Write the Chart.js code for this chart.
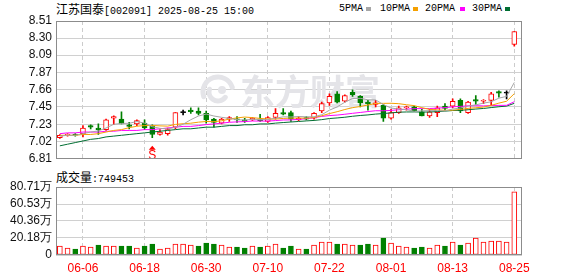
<!DOCTYPE html>
<html><head><meta charset="utf-8">
<script src="https://cdn.jsdelivr.net/npm/chart.js@4/dist/chart.umd.min.js"></script>
<style>
html,body{margin:0;padding:0;background:#fff;width:578px;height:276px;overflow:hidden;position:relative;}
#c1{position:absolute;left:0;top:0;}
#c2{position:absolute;left:0;top:170px;}
.t{position:absolute;white-space:nowrap;color:#000;line-height:14px;}
.cj{font-family:"Noto Sans CJK SC";font-size:12px;}
.as{font-family:"Liberation Mono","DejaVu Sans Mono",monospace;font-size:10px;}
.sq{position:absolute;width:5px;height:4px;}
</style></head><body>
<div class="t" style="left:56px;top:2px;"><span class="cj">江苏国泰</span><span class="as">[002091] 2025-08-25 15:00</span></div>
<div class="t as" style="left:339px;top:2px;">5PMA</div><div class="sq" style="left:366px;top:7px;background:#a6a6a6"></div>
<div class="t as" style="left:380px;top:2px;">10PMA</div><div class="sq" style="left:413px;top:7px;background:#f5a000"></div>
<div class="t as" style="left:425px;top:2px;">20PMA</div><div class="sq" style="left:460px;top:7px;background:#ff00ff"></div>
<div class="t as" style="left:472px;top:2px;">30PMA</div><div class="sq" style="left:505px;top:7px;background:#006e32"></div>
<div class="t" style="left:56px;top:170px;"><span class="cj">成交量</span><span class="as">:749453</span></div>
<canvas id="c1" width="578" height="170"></canvas>
<canvas id="c2" width="578" height="106"></canvas>
<script>
const dates = ['06-03','06-04','06-05','06-06','06-09','06-10','06-11','06-12','06-13','06-16','06-17','06-18','06-19','06-20','06-23','06-24','06-25','06-26','06-27','06-30','07-01','07-02','07-03','07-04','07-07','07-08','07-09','07-10','07-11','07-14','07-15','07-16','07-17','07-18','07-21','07-22','07-23','07-24','07-25','07-28','07-29','07-30','07-31','08-01','08-04','08-05','08-06','08-07','08-08','08-11','08-12','08-13','08-14','08-15','08-18','08-19','08-20','08-21','08-22','08-25'];
const opens  = [7.07,7.10,7.11,7.12,7.22,7.19,7.17,7.31,7.30,7.23, 7.24,7.25,7.21,7.11,7.12,7.20,7.38,7.41,7.40,7.37, 7.30,7.25,7.30,7.30,7.29,7.29,7.30,7.27,7.32,7.38, 7.38,7.29,7.32,7.31,7.40,7.50,7.61,7.52,7.63,7.58, 7.51,7.48,7.47,7.31,7.38,7.44,7.45,7.39,7.34,7.38, 7.46,7.46,7.53,7.38,7.54,7.52,7.53,7.64,7.62,8.22];
const highs  = [7.11,7.12,7.12,7.22,7.23,7.24,7.30,7.34,7.39,7.26, 7.29,7.29,7.23,7.17,7.19,7.38,7.41,7.44,7.44,7.40, 7.31,7.31,7.33,7.33,7.31,7.32,7.36,7.33,7.43,7.43, 7.40,7.33,7.33,7.38,7.51,7.61,7.64,7.60,7.66,7.59, 7.53,7.53,7.48,7.42,7.46,7.46,7.46,7.42,7.42,7.46, 7.49,7.55,7.55,7.52,7.59,7.54,7.63,7.65,7.65,8.38];
const lows   = [7.06,7.09,7.09,7.08,7.18,7.11,7.16,7.23,7.24,7.18, 7.22,7.17,7.07,7.10,7.10,7.18,7.35,7.37,7.35,7.25, 7.20,7.24,7.27,7.26,7.26,7.28,7.27,7.26,7.30,7.35, 7.27,7.28,7.29,7.30,7.38,7.47,7.50,7.51,7.58,7.45, 7.41,7.45,7.27,7.30,7.37,7.41,7.39,7.34,7.32,7.33, 7.41,7.44,7.38,7.37,7.48,7.49,7.47,7.57,7.55,8.20];
const closes = [7.10,7.11,7.10,7.19,7.20,7.17,7.29,7.33,7.24,7.21, 7.28,7.19,7.11,7.14,7.17,7.38,7.38,7.39,7.37,7.29, 7.26,7.30,7.32,7.29,7.27,7.31,7.28,7.32,7.37,7.36, 7.30,7.31,7.30,7.37,7.49,7.58,7.51,7.59,7.60,7.50, 7.49,7.50,7.31,7.38,7.44,7.45,7.40,7.34,7.39,7.44, 7.43,7.52,7.40,7.51,7.52,7.53,7.61,7.62,7.62,8.38];
// volume in 万 (10k shares)
const volumes = [10.7,8.3,7.1,10.7,9.5,11.9,10.7,10.7,10.7,10.7, 8.3,10.7,13.0,7.1,8.3,13.0,13.0,11.9,10.7,14.2, 13.0,11.9,9.5,9.5,8.3,10.7,9.5,10.7,13.0,8.3, 10.7,7.1,7.1,11.9,15.4,15.4,13.0,13.0,11.9,11.9, 13.0,11.9,20.2,14.2,10.7,9.5,8.3,9.5,8.3,11.9, 10.7,15.4,11.9,14.2,20.2,15.4,16.6,16.6,15.4,74.9453];
// moving-average values before a full window exists inside this view
const ma5Head  = [7.09,7.10,7.10,7.12];
const ma10Head = [7.10,7.10,7.10,7.11,7.11,7.12,7.14,7.16,7.17];
const ma20Head = [7.12,7.13,7.13,7.14,7.14,7.14,7.15,7.15,7.16,7.16,7.16,7.17,7.17,7.18,7.19,7.20,7.21,7.21,7.22];
const ma30Head = [6.97,6.99,7.01,7.03,7.05,7.06,7.08,7.09,7.10,7.11,7.12,7.13,7.14,7.15,7.16,7.17,7.18,7.18,7.19,7.20,7.20,7.21,7.22,7.22,7.23,7.23,7.24,7.24,7.25];
const priceTickLabels = ['6.81','7.02','7.23','7.45','7.66','7.87','8.09','8.30','8.51'];
const volTickValues = [0,20.18,40.36,60.53,80.71];
const volTickLabels = ['0','20.18万','40.36万','60.53万','80.71万'];
const dateTickIndex = [4,12,20,28,36,44,52,60];
const sMarkIndex = 13;

const RED='#ff0000', GREEN='#008000';
function movingAvg(head, n){
  return closes.map((c,i)=>{
    if(i < n-1) return head[i];
    let s=0; for(let k=i-n+1;k<=i;k++) s+=closes[k];
    return s/n;
  });
}
const ma5=movingAvg(ma5Head,5), ma10=movingAvg(ma10Head,10), ma20=movingAvg(ma20Head,20), ma30=movingAvg(ma30Head,30);
const xs = dates.map((d,i)=>i+1);
const candleCol = closes.map((c,i)=> c>opens[i]?RED:(c<opens[i]?GREEN:'#000000'));
const bodyFill = closes.map((c,i)=> c>opens[i]?'#ffffff':(c<opens[i]?GREEN:'#000000'));
const volUp = closes.map((c,i)=> i===0 ? c>=opens[i] : c>=closes[i-1]);
const volBorder = volUp.map(u=>u?RED:GREEN);
const volFill = volUp.map(u=>u?'#ffffff':GREEN);

const framePlugin = {id:'frame', afterDraw(ch){
  const a=ch.chartArea, c=ch.ctx; c.save(); c.strokeStyle='#8c8c8c'; c.lineWidth=1;
  c.strokeRect(Math.round(a.left)+0.5, Math.round(a.top)+0.5, Math.round(a.right-a.left)-1, Math.round(a.bottom-a.top)-1);
  c.restore();
}};
const watermarkPlugin = {id:'wm', beforeDatasetsDraw(ch){
  const c=ch.ctx; c.save();
  c.fillStyle='#e4e4e8'; c.strokeStyle='#e4e4e8';
  c.font='bold 35px "Noto Sans CJK SC"'; c.textBaseline='middle'; c.textAlign='left';
  c.fillText('东方财富', 240, 92);
  c.lineWidth=5; c.lineCap='round';
  c.beginPath(); c.arc(218,92,15,Math.PI*0.9,Math.PI*1.9); c.stroke();
  c.beginPath(); c.arc(218,92,9,Math.PI*0.2,Math.PI*1.1); c.stroke();
  c.beginPath(); c.arc(222,90,4,0,Math.PI*2); c.fill();
  c.restore();
}};
const sPlugin = {id:'smark', afterDatasetsDraw(ch){
  const c=ch.ctx, x=ch.scales.x.getPixelForValue(sMarkIndex), y=ch.scales.y.getPixelForValue(lows[sMarkIndex-1])+8;
  c.save(); c.fillStyle=RED; c.strokeStyle=RED; c.lineWidth=1;
  c.beginPath(); c.moveTo(x,y); c.lineTo(x-3.5,y+4); c.lineTo(x+3.5,y+4); c.closePath(); c.fill();
  c.font='12px "Liberation Sans"'; c.textAlign='center'; c.textBaseline='top'; c.fillText('S',x,y+4);
  c.restore();
}};

const lineDs = (data,color)=>({type:'line', data:data.map((v,i)=>({x:i+1,y:v})), borderColor:color, borderWidth:1, pointRadius:0, tension:0, order:0});
const xCommon = {type:'linear', min:0.5, max:61, offset:false,
  afterBuildTicks:s=>{s.ticks=dateTickIndex.map(v=>({value:v}));},
  grid:{color:'#cccccc', drawTicks:false, offset:false}, border:{display:false, dash:[4,3]}};

new Chart(document.getElementById('c1'), {
  type:'bar',
  data:{datasets:[
    lineDs(ma5,'#a6a6a6'), lineDs(ma10,'#f5a000'), lineDs(ma20,'#ff00ff'), lineDs(ma30,'#006e32'),
    {data:xs.map((x,i)=>({x, y:[opens[i],closes[i]]})), backgroundColor:bodyFill, borderColor:candleCol, borderWidth:1, borderSkipped:false, barThickness:5, minBarLength:1, grouped:false, order:5},
    {data:xs.map((x,i)=>({x, y:[lows[i],highs[i]]})), backgroundColor:candleCol, borderWidth:0, barThickness:1, grouped:false, order:6}
  ]},
  options:{responsive:false, animation:false, events:[],
    layout:{padding:{top:21,bottom:4,left:0,right:56}},
    plugins:{legend:{display:false}, tooltip:{enabled:false}},
    scales:{
      x:Object.assign({}, xCommon, {ticks:{display:false}, afterFit:s=>{s.height=0;}}),
      y:{min:6.81, max:8.51,
        afterBuildTicks:s=>{s.ticks=priceTickLabels.map(v=>({value:parseFloat(v)}));},
        ticks:{autoSkip:false, callback:(v,i)=>priceTickLabels[i], color:'#111', font:{size:12,family:'Liberation Sans'}, padding:4},
        grid:{color:'#d0d0d0', drawTicks:false}, border:{display:false},
        afterFit:s=>{s.width=56;}}
    }},
  plugins:[watermarkPlugin, sPlugin, framePlugin]
});

new Chart(document.getElementById('c2'), {
  type:'bar',
  data:{datasets:[
    {data:xs.map((x,i)=>({x, y:volumes[i]})), backgroundColor:volFill, borderColor:volBorder, borderWidth:1, borderSkipped:false, barThickness:5, grouped:false}
  ]},
  options:{responsive:false, animation:false, events:[],
    layout:{padding:{top:17,bottom:0,left:0,right:56}},
    plugins:{legend:{display:false}, tooltip:{enabled:false}},
    scales:{
      x:Object.assign({}, xCommon, {ticks:{display:true, autoSkip:false, maxRotation:0, color:RED, font:{size:12,family:'Liberation Sans'}, padding:6, callback:v=>dates[v-1]}, afterFit:s=>{s.height=21;}}),
      y:{min:0, max:80.71,
        afterBuildTicks:s=>{s.ticks=volTickValues.map(v=>({value:v}));},
        ticks:{autoSkip:false, callback:(v,i)=>volTickLabels[i], color:'#111', font:{size:12,family:'Liberation Sans'}, padding:4},
        grid:{color:'#d0d0d0', drawTicks:false}, border:{display:false},
        afterFit:s=>{s.width=56;}}
    }},
  plugins:[framePlugin]
});
</script>
</body></html>
